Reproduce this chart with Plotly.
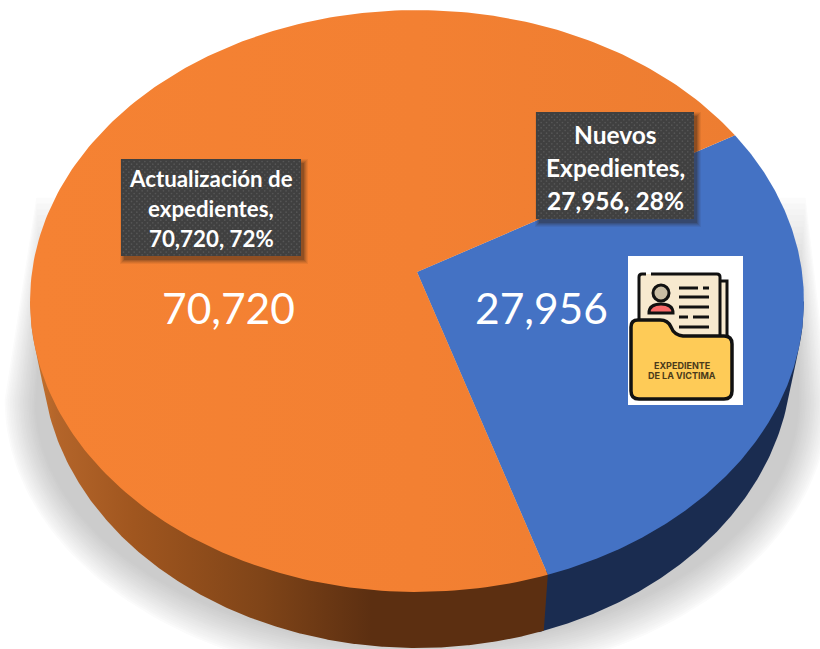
import numpy as np
import plotly.graph_objects as go

# ---- data ----
categories = ["Nuevos Expedientes", "Actualización de expedientes"]
values = [27956, 70720]
percent_labels = ["28%", "72%"]
value_labels = ["27,956", "70,720"]
face_colors = ["#4472c4", "#f27f31"]
side_color_blue = "#1a2c50"

# ---- geometry of the perspective pie (pixels) ----
W, H = 820, 649
APEX_X, APEX_Y = 417, 272
A, B, K = 385.0, 288.0, 0.0997      # projective mapping of the unit circle
DEPTH_CY, DEPTH_RX = 56.0, 12.0
START_DEG = 29.9                     # where the first slice begins, going clockwise
ELL_CX, ELL_CY, ELL_RX, ELL_RY = 417.0, 301.0, 387.0, 291.0


def project(deg):
    t = np.radians(deg)
    X, Y = np.cos(t), np.sin(t)
    w = 1 + K * Y
    return APEX_X + A * X / w, APEX_Y - B * Y / w


def to_bottom(x, y):
    return ELL_CX + (x - ELL_CX) * (ELL_RX - DEPTH_RX) / ELL_RX, y + DEPTH_CY


total = sum(values)
sweeps = [v / total * 360 for v in values]
a0 = START_DEG
a1 = a0 - sweeps[0]
a2 = a1 - sweeps[1]

fig = go.Figure()


def poly(x, y, color=None, **kw):
    args = dict(x=list(x), y=list(y), mode="lines", fill="toself", line=dict(width=0),
                hoverinfo="skip", showlegend=False)
    if color:
        args["fillcolor"] = color
    args.update(kw)
    fig.add_trace(go.Scatter(**args))


# ---- soft shadow behind the pie ----
N = 20
for i in range(N):
    t = i / (N - 1)
    g = int(round(255 - (255 - 204) * (t ** 0.85)))
    c = f"rgb({g},{g},{g})"
    cx, cy = 417.0, 400.0
    rx = 414 - 32 * t
    ry = 284 - 39 * t
    th = np.linspace(np.pi, 0, 120)
    ax = cx + rx * np.cos(th)
    ay = cy + ry * np.sin(th)
    top_y = 192 + 110 * t
    top_l = 36 + 6 * t
    top_r = 798 + 8 * (1 - t)
    xs = np.r_[top_l, ax, top_r]
    ys = np.r_[top_y, ay, top_y]
    poly(xs, ys, c)

# ---- side wall ----
xg = np.linspace(ELL_CX - ELL_RX, ELL_CX + ELL_RX, 500)
s_vals = np.linspace(0, 1, 60)
env = []
for x in xg:
    best = -1e9
    for s in s_vals:
        rx = ELL_RX - DEPTH_RX * s
        d = (x - ELL_CX) / rx
        if abs(d) <= 1:
            best = max(best, ELL_CY + DEPTH_CY * s + ELL_RY * np.sqrt(1 - d * d))
    env.append(best)
env = np.array(env)

sx_top, sy_top = project(a1)
sx_bot, sy_bot = to_bottom(sx_top, sy_top)

mask_b = xg >= sx_bot - 6
poly(np.r_[sx_top - 6, xg[mask_b], ELL_CX + ELL_RX, sx_top - 6],
     np.r_[sy_top, env[mask_b], ELL_CY, sy_top], side_color_blue)

mask_o = xg <= sx_bot
xo = np.r_[ELL_CX - ELL_RX, xg[mask_o], sx_bot, sx_top, ELL_CX - ELL_RX]
yo = np.r_[ELL_CY, env[mask_o], sy_bot, sy_top, ELL_CY]
poly(xo, yo, None, fillgradient=dict(
    type="horizontal",
    colorscale=[[0.0, "#c9742c"], [0.05, "#b4652a"], [0.2, "#a0561f"],
                [0.45, "#7f4418"], [0.66, "#5c2f11"], [1.0, "#5c2f11"]]))

# ---- top faces ----
for i, (start, end) in enumerate([(a0, a1), (a1, a2)]):
    th = np.linspace(start, end, 240)
    px, py = project(th)
    xs = np.r_[APEX_X, px, APEX_X]
    ys = np.r_[APEX_Y, py, APEX_Y]
    if i == 1:
        poly(xs, ys, None, fillgradient=dict(
            type="horizontal",
            colorscale=[[0, "#f58233"], [0.55, "#f38032"], [1, "#ed7d31"]]))
    else:
        poly(xs, ys, face_colors[i])


# ---- data label boxes ----
def label_box(x0, x1, y0, y1):
    for j, (grow, alpha) in enumerate([(4, 0.07), (3, 0.09), (2, 0.11), (1, 0.14), (0, 0.2)]):
        ox, oy = 3, 4
        poly([x0 + ox - grow, x1 + ox + grow, x1 + ox + grow, x0 + ox - grow, x0 + ox - grow],
             [y0 + oy - grow, y0 + oy - grow, y1 + oy + grow, y1 + oy + grow, y0 + oy - grow],
             f"rgba(40,30,20,{alpha})")
    poly([x0, x1, x1, x0, x0], [y0, y0, y1, y1, y0], "#404040")
    dx, dy = [], []
    sp = 5.33
    yy = y0 + 2.5
    row = 0
    while yy < y1:
        xx = x0 + 2.5 + (sp / 2 if row % 2 else 0)
        while xx < x1:
            dx.append(xx)
            dy.append(yy)
            xx += sp
        yy += sp / 2
        row += 1
    fig.add_trace(go.Scatter(x=dx, y=dy, mode="markers", hoverinfo="skip", showlegend=False,
                             marker=dict(size=1.7, color="#565656", line=dict(width=0))))


label_box(121, 301, 159, 256)
label_box(536, 694, 112, 219)


def text(x, y, s, size, color="white", family="Lato", bold=False):
    fig.add_annotation(x=x, y=y, xref="x", yref="y", text=f"<b>{s}</b>" if bold else s,
                       showarrow=False, xanchor="center", yanchor="middle",
                       font=dict(size=size, color=color, family=family))


lines_orange = ["Actualización de", "expedientes,", f"{value_labels[1]}, {percent_labels[1]}"]
for s, yy in zip(lines_orange, [178, 208, 238]):
    text(211, yy, s, 22.3, bold=True)
lines_blue = ["Nuevos", "Expedientes,", f"{value_labels[0]}, {percent_labels[0]}"]
for s, yy in zip(lines_blue, [134, 167, 200]):
    text(615, yy, s, 24.5, bold=True)

text(228, 307, value_labels[1], 42.5)
text(541, 307, value_labels[0], 42.5)

# ---- folder icon ----
shapes = []


def shp(path, fill=None, lw=3, lc="#111111"):
    shapes.append(dict(type="path", path=path, xref="x", yref="y", layer="above",
                       fillcolor=fill if fill else "rgba(0,0,0,0)",
                       line=dict(width=lw, color=lc) if lw else dict(width=0)))


shp("M628,256 L743,256 L743,405 L628,405 Z", "#ffffff", 0)
shp("M718,281 L727,281 L727,345 L718,345 Z", "#f7e9cf", 3)
shp("M639,330 L639,277 L642,274 L718,274 L720,277 L720,345 L639,345 Z", "#f7e9cf", 0)
shp("M639,330 L639,277 Q639,274 642,274 L646,274 M651,274 L717,274 Q720,274 720,277 L720,340", None, 3)
shp("M649,313 Q649,304 661,304 Q673,304 673,313 Z", "#f96a6a", 3)
shapes.append(dict(type="circle", xref="x", yref="y", layer="above", x0=653, x1=669, y0=285, y1=301,
                   fillcolor="#c9bda4", line=dict(width=3, color="#111111")))
for x0, x1, yy in [(679, 698, 288), (703, 709, 288), (679, 709, 297), (679, 709, 307),
                   (679, 688, 317), (693, 709, 317), (679, 709, 327)]:
    shp(f"M{x0},{yy} L{x1},{yy}", None, 3)
shp("M638,320 L660,320 Q668,320 671,327 Q674,335 683,336 L724,336 Q732,336 732,344 "
    "L732,391 Q732,399 724,399 L639,399 Q631,399 631,391 L631,327 Q631,320 638,320 Z",
    "#fecb57", 3.5)

text(682, 365, "EXPEDIENTE", 9, color="#4a3a1a", family="Inter", bold=True)
text(682, 375, "DE LA VICTIMA", 9, color="#4a3a1a", family="Inter", bold=True)

fig.update_layout(
    width=W, height=H, margin=dict(l=0, r=0, t=0, b=0), autosize=False,
    paper_bgcolor="white", plot_bgcolor="white", showlegend=False, shapes=shapes,
    xaxis=dict(range=[0, W], visible=False, fixedrange=True),
    yaxis=dict(range=[H, 0], visible=False, fixedrange=True),
)
fig.write_html("out.html", config=dict(displayModeBar=False),
               post_script="document.body.style.margin='0';document.body.style.overflow='hidden';")
